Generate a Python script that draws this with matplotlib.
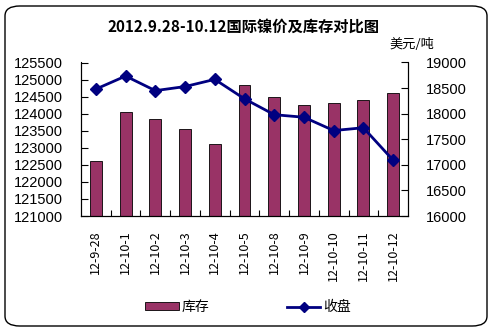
import matplotlib
matplotlib.use("Agg")
import matplotlib.pyplot as plt
from matplotlib.patches import FancyBboxPatch, Patch
from matplotlib.lines import Line2D

plt.rcParams['font.family'] = ['Noto Sans CJK SC', 'DejaVu Sans']

dates = ["12-9-28", "12-10-1", "12-10-2", "12-10-3", "12-10-4", "12-10-5",
         "12-10-8", "12-10-9", "12-10-10", "12-10-11", "12-10-12"]
stock = [122600, 124050, 123850, 123550, 123125, 124850,
         124500, 124250, 124325, 124390, 124600]
close = [18480, 18735, 18450, 18530, 18670, 18290,
         17980, 17930, 17670, 17725, 17090]

bar_color = "#993366"
line_color = "#000080"

fig = plt.figure(figsize=(4.92, 3.31), dpi=100)
W, H = 492, 331

# rounded outer frame
frame = FancyBboxPatch((5 / W, 5 / H), 482 / W, 320 / H,
                       boxstyle="round,pad=0,rounding_size=0.03",
                       transform=fig.transFigure, fill=False,
                       edgecolor="black", linewidth=1.0)
fig.patches.append(frame)

ax = fig.add_axes([81 / W, 1 - 216 / H, (408 - 81) / W, (216 - 62.5) / H])
ax2 = ax.twinx()

x = list(range(len(dates)))
ax.bar(x, stock, width=0.4, color=bar_color, edgecolor="black", linewidth=0.6, zorder=2)
ax.set_ylim(121000, 125500)
ax.set_yticks(range(121000, 125501, 500))
ax.set_xlim(-0.5, len(dates) - 0.5)
ax.set_xticks([i + 0.5 for i in x[:-1]], minor=False)
ax.set_xticklabels([])
ax.set_xticks(x, minor=True)
ax.set_xticklabels(dates, minor=True, rotation=90, fontsize=9,
                   family=['Noto Sans CJK SC', 'DejaVu Sans'])
ax.tick_params(axis='x', which='minor', length=0, pad=10)
ax.tick_params(axis='x', which='major', direction='in', length=4)

ax2.plot(x, close, color=line_color, linewidth=2, marker='D', markersize=6.5, zorder=3)
ax2.set_ylim(16000, 19000)
ax2.set_yticks(range(16000, 19001, 500))

for a in (ax, ax2):
    a.spines['top'].set_visible(False)
    a.patch.set_visible(False)
ax.tick_params(axis='y', direction='in', length=5, labelsize=10.5, pad=13)
ax2.tick_params(axis='y', direction='in', length=5, labelsize=10.5, pad=13)
for lab in ax.get_yticklabels() + ax2.get_yticklabels():
    lab.set_family(['Liberation Sans', 'DejaVu Sans'])

fig.text(244 / W, 1 - 27 / H, "2012.9.28-10.12国际镍价及库存对比图",
         ha='center', va='center', fontsize=11, fontweight='bold')
fig.text(412 / W, 1 - 44 / H, "美元/吨", ha='center', va='center', fontsize=9.5)

handles = [Patch(facecolor=bar_color, edgecolor="black", linewidth=0.6),
           Line2D([], [], color=line_color, linewidth=2, marker='D', markersize=5)]
fig.legend(handles, ["库存", "收盘"], loc='center', bbox_to_anchor=(248 / W, 1 - 307 / H),
           ncol=2, frameon=False, fontsize=10, columnspacing=5.6, handlelength=2.4,
           handleheight=0.5, handletextpad=0.2)

fig.savefig("out.png", dpi=100)
